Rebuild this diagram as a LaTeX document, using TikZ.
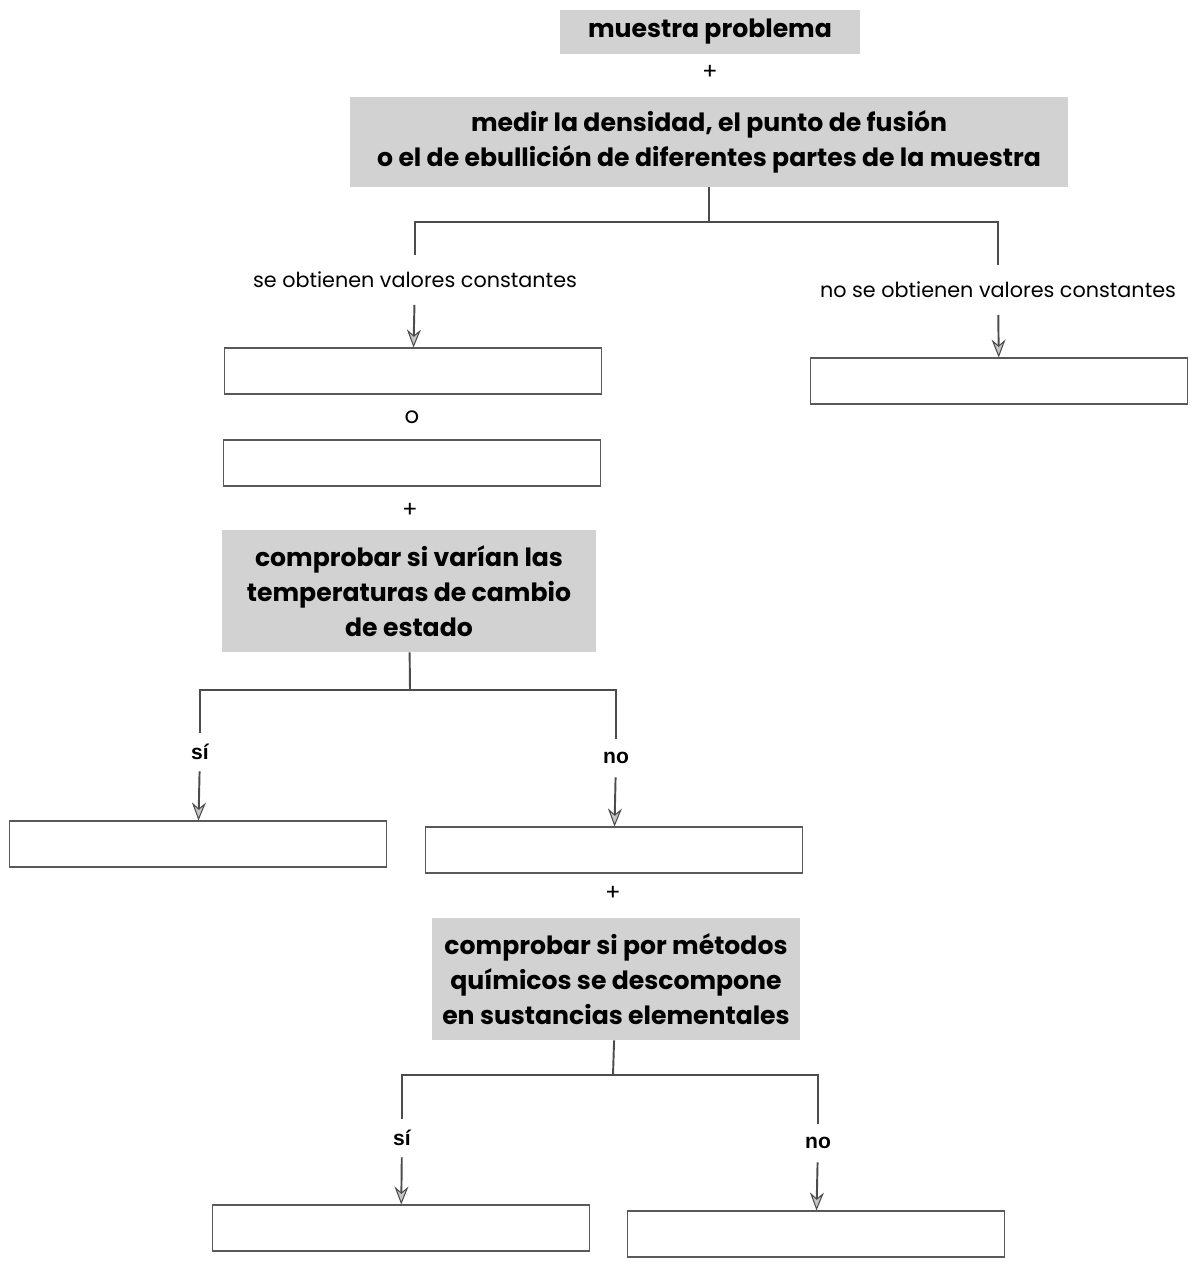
\documentclass[tikz,border=0pt]{standalone}
\usepackage{fontspec}
\setmainfont{Poppins}
\newfontfamily\yesnofont{Liberation Sans}
\usetikzlibrary{arrows.meta}

\begin{document}
\begin{tikzpicture}[x=0.02cm, y=-0.02cm, >={Stealth[length=3.6mm, width=2.8mm, inset=1.2mm, fill=gray!45, line width=0.6pt]},
    task/.style={fill=gray!35, inner sep=0pt, align=center, font=\bfseries\fontsize{14.3}{20}\selectfont},
    answer/.style={draw=gray!70!black, line width=0.6pt, minimum width=7.54cm, minimum height=0.92cm, inner sep=0pt},
    branch/.style={minimum height=0.98cm, inner sep=0pt, font=\fontsize{11.8}{14}\selectfont},
    yesno/.style={minimum height=0.76cm, inner sep=0pt, font=\yesnofont\bfseries\fontsize{12}{14}\selectfont},
    sign/.style={inner sep=0pt, font=\fontsize{13}{15}\selectfont},
    link/.style={draw=gray!60!black, line width=1.1pt}]
    \useasboundingbox (0, 0) rectangle (1200, 1271);

    % Nodes
    \node[task, minimum width=6cm, minimum height=0.88cm] at (710, 32) (m0) {muestra problema};
    \node[sign] at (710, 72) (p0) {+};
    \node[task, minimum width=14.36cm, minimum height=1.8cm] at (709, 142) (m1)
        {medir la densidad, el punto de fusión\\o el de ebullición de diferentes partes de la muestra};
    \coordinate (j1) at (709, 222);
    \node[branch] at (415, 280) (c1) {se obtienen valores constantes};
    \node[branch] at (998, 290) (c2) {no se obtienen valores constantes};
    \node[answer] at (413, 371) (a1) {};
    \node[answer] at (999, 381) (a2) {};
    \node[sign] at (412, 417) (o1) {o};
    \node[answer] at (412, 463) (a3) {};
    \node[sign] at (410, 510) (p1) {+};
    \node[task, minimum width=7.48cm, minimum height=2.44cm] at (409, 591) (m2)
        {comprobar si varían las\\temperaturas de cambio\\de estado};
    \coordinate (j2) at (410, 690);
    \node[yesno] at (200, 752) (c3) {sí};
    \node[yesno] at (616, 758) (c4) {no};
    \node[answer] at (198, 844) (a4) {};
    \node[answer] at (614, 850) (a5) {};
    \node[sign] at (613, 893) (p2) {+};
    \node[task, minimum width=7.36cm, minimum height=2.44cm] at (616, 979) (m3)
        {comprobar si por métodos\\químicos se descompone\\en sustancias elementales};
    \coordinate (j3) at (613, 1075);
    \node[yesno] at (402, 1138) (c5) {sí};
    \node[yesno] at (818, 1143) (c6) {no};
    \node[answer] at (401, 1228) (a6) {};
    \node[answer] at (816, 1234) (a7) {};

    % Edges
    \draw[link] (m1) -- (j1);
    \draw[link] (j1) -| (c1);
    \draw[link] (j1) -| (c2);
    \draw[link, ->] (c1) -- (a1);
    \draw[link, ->] (c2) -- (a2);

    \draw[link] (m2) -- (j2);
    \draw[link] (j2) -| (c3);
    \draw[link] (j2) -| (c4);
    \draw[link, ->] (c3) -- (a4);
    \draw[link, ->] (c4) -- (a5);

    \draw[link] (m3) -- (j3);
    \draw[link] (j3) -| (c5);
    \draw[link] (j3) -| (c6);
    \draw[link, ->] (c5) -- (a6);
    \draw[link, ->] (c6) -- (a7);
\end{tikzpicture}
\end{document}
